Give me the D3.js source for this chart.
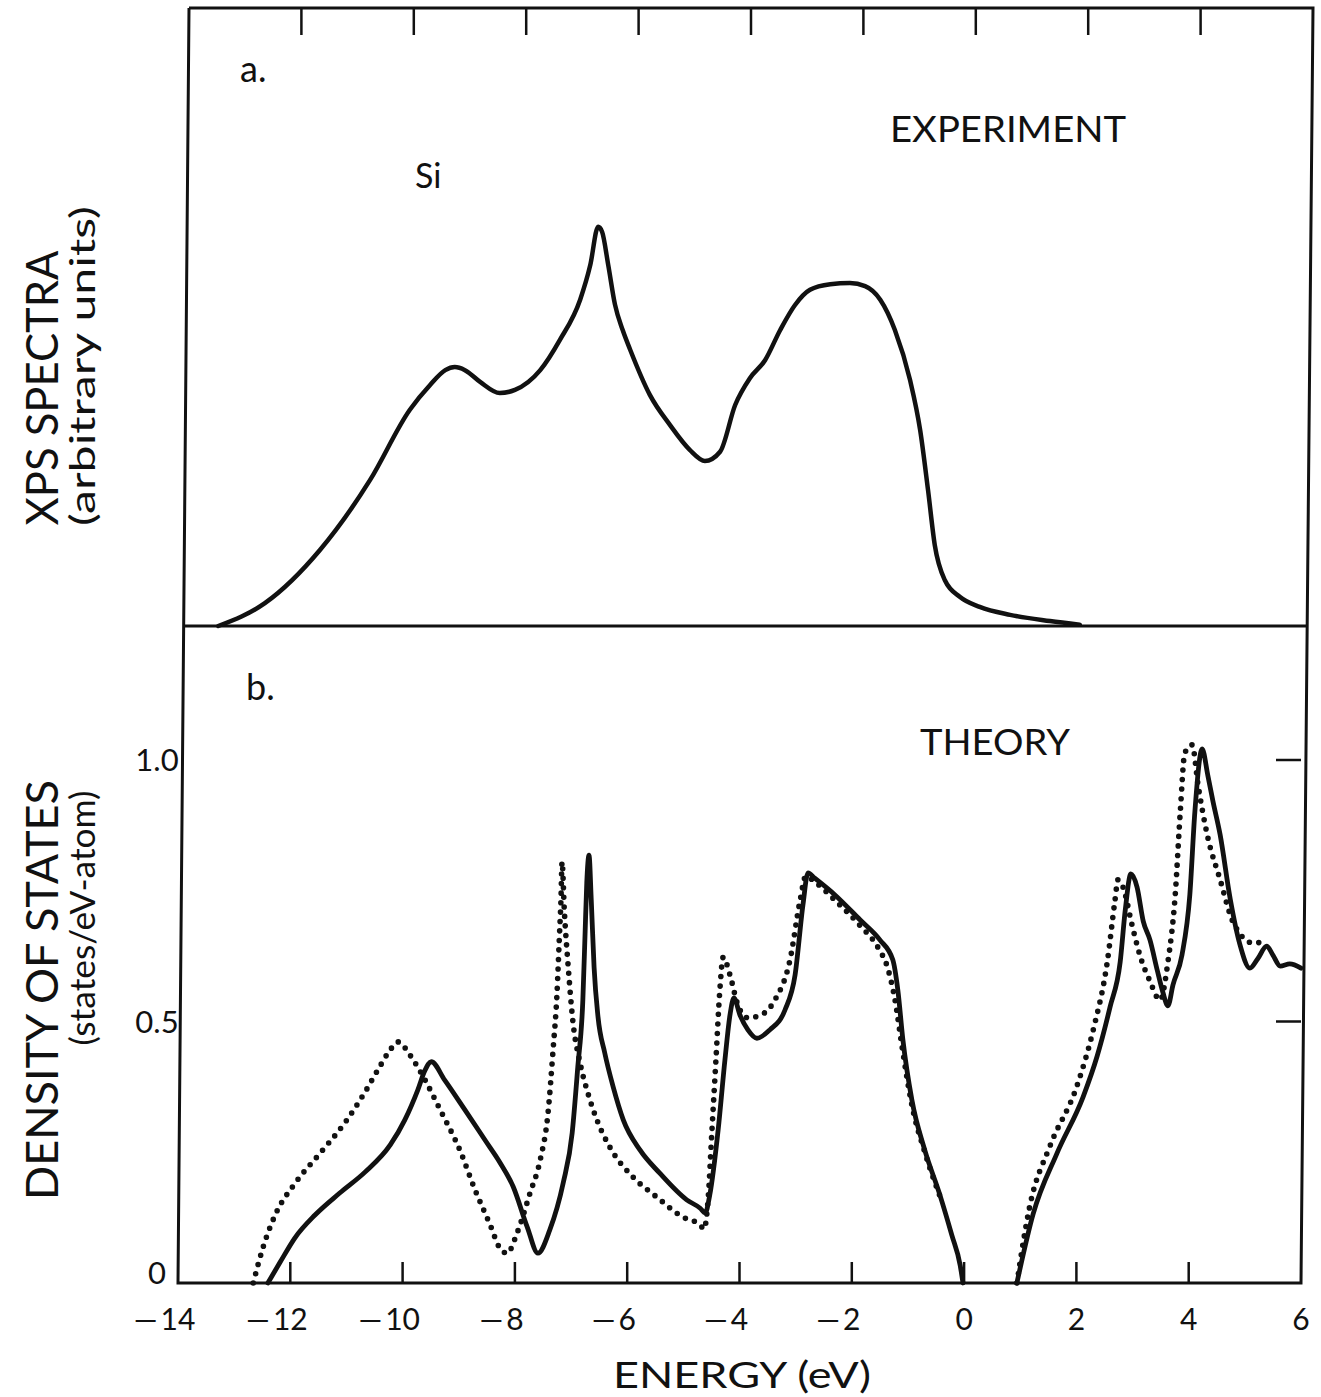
<!DOCTYPE html>
<html>
<head>
<meta charset="utf-8">
<script src="https://cdn.jsdelivr.net/npm/d3@7"></script>
<style>
  html, body { margin: 0; padding: 0; background: #fff; }
  svg { display: block; }
  text { font-family: Lato, "Open Sans", sans-serif; fill: #111; }
</style>
</head>
<body>
<svg id="chart" width="1321" height="1397"></svg>
<script>
// ---------------- DATA ----------------
const energyTicks = [-14, -12, -10, -8, -6, -4, -2, 0, 2, 4, 6];
const dosTicks = [0, 0.5, 1.0];
const dosTickLabels = ["0", "0.5", "1.0"];

// a. XPS experiment (arbitrary units), [energy eV, intensity]
const xpsSpectrum = [
  [-13.48, 0.000], [-12.65, 0.037], [-11.67, 0.123], [-10.78, 0.236], [-10.07, 0.350],
  [-9.71, 0.390], [-9.44, 0.414], [-9.27, 0.419], [-9.09, 0.414], [-8.82, 0.395],
  [-8.47, 0.377], [-8.20, 0.382], [-7.75, 0.414], [-7.40, 0.463], [-7.04, 0.528],
  [-6.86, 0.584], [-6.72, 0.646], [-6.65, 0.638], [-6.54, 0.584], [-6.42, 0.520],
  [-6.28, 0.478], [-6.15, 0.447], [-5.80, 0.374], [-5.44, 0.325], [-5.09, 0.285],
  [-4.82, 0.267], [-4.55, 0.282], [-4.28, 0.358], [-4.02, 0.401], [-3.75, 0.430],
  [-3.48, 0.479], [-3.22, 0.519], [-2.95, 0.544], [-2.59, 0.553], [-2.24, 0.555],
  [-1.97, 0.550], [-1.70, 0.528], [-1.44, 0.479], [-1.17, 0.398], [-0.99, 0.317],
  [-0.85, 0.220], [-0.73, 0.131], [-0.55, 0.074], [-0.28, 0.047], [0.07, 0.031],
  [0.61, 0.018], [1.32, 0.008], [1.85, 0.002]
];

// b. Theory, solid curve (states/eV-atom): valence band
const theorySolidValence = [
  [-12.40, 0.000], [-12.18, 0.040], [-11.92, 0.086], [-11.56, 0.130], [-11.12, 0.172],
  [-10.67, 0.212], [-10.22, 0.264], [-9.96, 0.312], [-9.73, 0.369], [-9.60, 0.407],
  [-9.49, 0.423], [-9.25, 0.388], [-8.89, 0.331], [-8.53, 0.273], [-8.27, 0.231],
  [-8.03, 0.184], [-7.78, 0.107], [-7.59, 0.057], [-7.38, 0.101], [-7.14, 0.191],
  [-6.98, 0.287], [-6.88, 0.413], [-6.79, 0.541], [-6.75, 0.669], [-6.72, 0.765],
  [-6.68, 0.818], [-6.64, 0.732], [-6.59, 0.604], [-6.52, 0.509], [-6.40, 0.440],
  [-6.25, 0.375], [-6.07, 0.312], [-5.77, 0.254], [-5.42, 0.210], [-4.94, 0.159],
  [-4.70, 0.143], [-4.61, 0.134], [-4.53, 0.168], [-4.38, 0.293], [-4.26, 0.426],
  [-4.17, 0.512], [-4.10, 0.545], [-3.99, 0.512], [-3.85, 0.484], [-3.69, 0.468],
  [-3.46, 0.484], [-3.19, 0.522], [-3.01, 0.589], [-2.87, 0.723], [-2.78, 0.784],
  [-2.66, 0.774], [-2.30, 0.742], [-1.85, 0.694], [-1.50, 0.656], [-1.27, 0.618],
  [-1.18, 0.560], [-1.09, 0.465], [-0.93, 0.350], [-0.70, 0.254], [-0.43, 0.168],
  [-0.22, 0.092], [-0.07, 0.034], [-0.02, 0.000]
];

// b. Theory, solid curve: conduction band
const theorySolidConduction = [
  [0.94, 0.000], [1.23, 0.132], [1.65, 0.247], [2.12, 0.356], [2.37, 0.434],
  [2.60, 0.528], [2.78, 0.614], [2.87, 0.713], [2.97, 0.782], [3.08, 0.757],
  [3.19, 0.692], [3.31, 0.656], [3.44, 0.598], [3.54, 0.556], [3.63, 0.530],
  [3.72, 0.570], [3.88, 0.627], [4.02, 0.742], [4.11, 0.901], [4.24, 1.021],
  [4.34, 0.971], [4.43, 0.922], [4.56, 0.857], [4.74, 0.734], [4.91, 0.648],
  [5.09, 0.602], [5.23, 0.620], [5.39, 0.644], [5.50, 0.627], [5.63, 0.606],
  [5.80, 0.610], [6.00, 0.602]
];

// b. Theory, dotted curve: valence band
const theoryDottedValence = [
  [-12.66, 0.000], [-12.50, 0.063], [-12.27, 0.130], [-11.92, 0.190], [-11.47, 0.248],
  [-11.03, 0.306], [-10.67, 0.365], [-10.40, 0.415], [-10.22, 0.446], [-10.08, 0.461],
  [-9.87, 0.436], [-9.60, 0.388], [-9.33, 0.331], [-8.98, 0.254], [-8.71, 0.178],
  [-8.44, 0.111], [-8.27, 0.067], [-8.14, 0.057], [-7.96, 0.096], [-7.73, 0.172],
  [-7.55, 0.235], [-7.41, 0.325], [-7.32, 0.446], [-7.25, 0.554], [-7.21, 0.656],
  [-7.18, 0.732], [-7.16, 0.805], [-7.12, 0.713], [-7.05, 0.604], [-6.97, 0.503],
  [-6.84, 0.421], [-6.70, 0.363], [-6.54, 0.312], [-6.31, 0.260], [-5.90, 0.203],
  [-5.47, 0.164], [-5.01, 0.126], [-4.70, 0.111], [-4.63, 0.103], [-4.56, 0.159],
  [-4.49, 0.293], [-4.42, 0.426], [-4.35, 0.560], [-4.29, 0.623], [-4.17, 0.589],
  [-4.03, 0.532], [-3.85, 0.507], [-3.63, 0.512], [-3.37, 0.541], [-3.10, 0.618],
  [-2.92, 0.732], [-2.82, 0.778], [-2.66, 0.767], [-2.30, 0.732], [-1.85, 0.683],
  [-1.53, 0.641], [-1.36, 0.602], [-1.23, 0.541], [-1.11, 0.455], [-0.93, 0.340],
  [-0.70, 0.250], [-0.43, 0.166]
];

// b. Theory, dotted curve: conduction band
const theoryDottedConduction = [
  [0.94, 0.000], [1.17, 0.147], [1.53, 0.262], [2.01, 0.377], [2.30, 0.484],
  [2.55, 0.614], [2.69, 0.734], [2.74, 0.771], [2.83, 0.757], [2.99, 0.685],
  [3.13, 0.627], [3.31, 0.577], [3.49, 0.541], [3.63, 0.614], [3.76, 0.742],
  [3.85, 0.901], [3.93, 1.013], [4.06, 1.029], [4.17, 0.950], [4.33, 0.857],
  [4.56, 0.771], [4.79, 0.690], [5.15, 0.650], [5.39, 0.654]
];

// ---------------- LAYOUT ----------------
const svg = d3.select("#chart");
const topY0 = 8, divY = 626, botY = 1283;

// the scanned figure is slightly skewed: top panel sits a few px to the right
const xTop = d3.scaleLinear().domain([-14, 6]).range([189, 1313]);
const xBot = d3.scaleLinear().domain([-14, 6]).range([178, 1301]);
const yTop = d3.scaleLinear().domain([0, 1]).range([divY, topY0]);
const yBot = d3.scaleLinear().domain([0, 1]).range([botY, 760]);

const edgeX = (xs, y) => {
  const t = (y - topY0) / (botY - topY0);
  return xs[0] + (xs[1] - xs[0]) * t;
};
const leftEdge = [xTop(-14), xBot(-14)];
const rightEdge = [xTop(6), xBot(6)];

const frame = svg.append("g").attr("stroke", "#111").attr("stroke-width", 3).attr("fill", "none");
frame.append("path").attr("d", d3.line()([
  [xTop(-14), topY0], [xTop(6), topY0], [xBot(6), botY], [xBot(-14), botY], [xTop(-14), topY0]
])).attr("stroke-linejoin", "miter");
frame.append("line")
  .attr("x1", edgeX(leftEdge, divY)).attr("x2", edgeX(rightEdge, divY))
  .attr("y1", divY).attr("y2", divY);

const innerTicks = energyTicks.filter(v => v > -14 && v < 6);
frame.selectAll(".tt").data(innerTicks).join("line")
  .attr("x1", d => xTop(d)).attr("x2", d => xTop(d))
  .attr("y1", topY0).attr("y2", topY0 + 27).attr("stroke-width", 2.5);

frame.selectAll(".bt").data(innerTicks).join("line")
  .attr("x1", d => xBot(d)).attr("x2", d => xBot(d))
  .attr("y1", botY).attr("y2", botY - 21).attr("stroke-width", 2.5);

frame.selectAll(".rt").data(dosTicks.filter(d => d > 0)).join("line")
  .attr("x1", xBot(6)).attr("x2", xBot(6) - 25)
  .attr("y1", d => yBot(d)).attr("y2", d => yBot(d)).attr("stroke-width", 2.5);

// x tick labels: digits centered on the tick, long minus hanging left
const xl = svg.append("g");
energyTicks.forEach(v => {
  const t = xl.append("text")
    .attr("x", xBot(v)).attr("y", 1330)
    .attr("text-anchor", "middle")
    .attr("font-size", 30)
    .text(String(Math.abs(v)));
  if (v < 0) {
    const w = t.node().getComputedTextLength();
    xl.append("text")
      .attr("x", xBot(v) - w / 2 - 3).attr("y", 1330)
      .attr("text-anchor", "end")
      .attr("font-size", 30)
      .text("\u2014");
  }
});

// y tick labels (density of states)
svg.append("g").selectAll("text").data(dosTicks).join("text")
  .attr("x", 157)
  .attr("y", d => Math.min(yBot(d), 1273))
  .attr("dy", "0.36em")
  .attr("text-anchor", "middle")
  .attr("font-size", 31)
  .text((d, i) => dosTickLabels[i]);

// axis titles
svg.append("text").attr("x", 742).attr("y", 1388)
  .attr("text-anchor", "middle").attr("font-size", 36)
  .attr("textLength", 258).attr("lengthAdjust", "spacingAndGlyphs")
  .text("ENERGY (eV)");

function vLabel(text, cx, cy, size, len) {
  svg.append("text")
    .attr("transform", `translate(${cx},${cy}) rotate(-90)`)
    .attr("text-anchor", "middle").attr("dy", "0.35em")
    .attr("font-size", size)
    .attr("textLength", len).attr("lengthAdjust", "spacingAndGlyphs")
    .text(text);
}
vLabel("XPS SPECTRA", 43, 388, 44, 275);
vLabel("(arbitrary units)", 83, 366, 34, 320);
vLabel("DENSITY OF STATES", 43, 990, 44, 420);
vLabel("(states/eV-atom)", 83, 918, 34, 255);

function note(text, x, y, size, len) {
  const t = svg.append("text").attr("x", x).attr("y", y).attr("font-size", size).text(text);
  if (len) t.attr("textLength", len).attr("lengthAdjust", "spacingAndGlyphs");
}
note("a.", 240, 82, 36);
note("EXPERIMENT", 890, 142, 36, 236);
note("Si", 415, 188, 34);
note("b.", 246, 700, 36);
note("THEORY", 920, 755, 36, 150);

// ---------------- CURVES ----------------
const lineTop = d3.line().x(d => xTop(d[0])).y(d => yTop(d[1])).curve(d3.curveMonotoneX);
const lineBot = d3.line().x(d => xBot(d[0])).y(d => yBot(d[1])).curve(d3.curveMonotoneX);

svg.append("path").datum(xpsSpectrum).attr("d", lineTop)
  .attr("fill", "none").attr("stroke", "#111").attr("stroke-width", 4.5)
  .attr("stroke-linejoin", "round").attr("stroke-linecap", "round");

[theoryDottedValence, theoryDottedConduction].forEach(seg => {
  svg.append("path").datum(seg).attr("d", lineBot)
    .attr("fill", "none").attr("stroke", "#111").attr("stroke-width", 5.6)
    .attr("stroke-linecap", "round").attr("stroke-dasharray", "0 9.5");
});

[theorySolidValence, theorySolidConduction].forEach(seg => {
  svg.append("path").datum(seg).attr("d", lineBot)
    .attr("fill", "none").attr("stroke", "#111").attr("stroke-width", 4.8)
    .attr("stroke-linejoin", "round").attr("stroke-linecap", "round");
});
</script>
</body>
</html>
